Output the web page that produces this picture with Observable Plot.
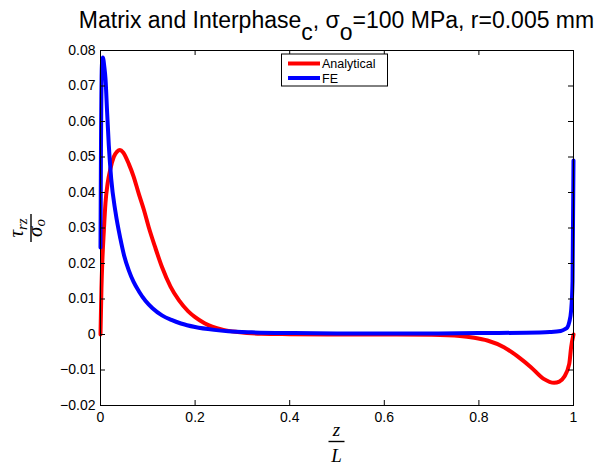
<!DOCTYPE html>
<html><head><meta charset="utf-8">
<script src="https://cdn.jsdelivr.net/npm/d3@7"></script>
<script src="https://cdn.jsdelivr.net/npm/@observablehq/plot@0.6"></script>
<style>body{margin:0;background:#fff} #chart svg{display:block}</style>
</head><body><div id="chart"></div>
<script>
const zAnalytical = [0, 0.002, 0.004, 0.007, 0.0105, 0.015, 0.021, 0.028, 0.035, 0.041, 0.048, 0.06, 0.07, 0.081, 0.092, 0.102, 0.115, 0.13, 0.148, 0.166, 0.185, 0.2, 0.22, 0.236, 0.26, 0.29, 0.34, 0.4, 0.5, 0.6, 0.7, 0.76, 0.79, 0.818, 0.853, 0.888, 0.91, 0.937, 0.959, 0.97, 0.98, 0.991, 0.995, 1];
const tauAnalytical = [0, 0.013, 0.021, 0.029, 0.037, 0.0425, 0.0467, 0.05, 0.0515, 0.052, 0.0513, 0.048, 0.0445, 0.0396, 0.035, 0.0302, 0.0248, 0.019, 0.0135, 0.0096, 0.0066, 0.0049, 0.0032, 0.0022, 0.0013, 0.0007, 0.0002, 0.0001, 0, 0, -0.0001, -0.0004, -0.0009, -0.0017, -0.0036, -0.0068, -0.0092, -0.0125, -0.0136, -0.0133, -0.012, -0.0083, -0.0036, 0];
const zFE = [0, 0.001, 0.003, 0.005, 0.008, 0.0106, 0.014, 0.0176, 0.0226, 0.0317, 0.042, 0.05, 0.06, 0.07, 0.081, 0.095, 0.11, 0.13, 0.15, 0.17, 0.2, 0.24, 0.27, 0.32, 0.41, 0.5, 0.6, 0.7, 0.8, 0.9, 0.95, 0.973, 0.982, 0.987, 0.991, 0.995, 0.998, 1];
const tauFE = [0.0245, 0.052, 0.076, 0.078, 0.0755, 0.072, 0.0626, 0.0532, 0.0439, 0.0345, 0.027, 0.0222, 0.018, 0.0148, 0.0122, 0.0095, 0.0074, 0.0054, 0.0041, 0.0031, 0.0021, 0.0013, 0.0009, 0.0006, 0.0004, 0.0003, 0.0003, 0.0003, 0.0004, 0.0005, 0.0007, 0.001, 0.0015, 0.002, 0.0035, 0.0068, 0.015, 0.049];
const seriesNames = ["Analytical", "FE"];
const seriesColors = ["#ff0000", "#0000ff"];
const xTicks = [0, 0.2, 0.4, 0.6, 0.8, 1];
const xTickLabels = ["0", "0.2", "0.4", "0.6", "0.8", "1"];
const yTicks = [-0.02, -0.01, 0, 0.01, 0.02, 0.03, 0.04, 0.05, 0.06, 0.07, 0.08];
const yTickLabels = ["\u22120.02", "\u22120.01", "0", "0.01", "0.02", "0.03", "0.04", "0.05", "0.06", "0.07", "0.08"];

const W = 614, H = 468, mL = 100, mR = 41, mT = 50, mB = 63;
const fw = W - mL - mR, fh = H - mT - mB, tk = 5;
const sans = "'Liberation Sans', Arial, Helvetica, sans-serif";
const serif = "'Liberation Serif', 'Times New Roman', serif";

const rows = [
  ...zAnalytical.map((z, i) => ({z, tau: tauAnalytical[i], s: seriesNames[0]})),
  ...zFE.map((z, i) => ({z, tau: tauFE[i], s: seriesNames[1]}))
];

const plot = Plot.plot({
  width: W, height: H,
  marginLeft: mL, marginRight: mR, marginTop: mT, marginBottom: mB,
  style: {fontFamily: sans, fontSize: "14px", color: "#000", background: "#fff", overflow: "visible"},
  x: {domain: [0, 1]},
  y: {domain: [-0.02, 0.08]},
  color: {domain: seriesNames, range: seriesColors},
  marks: [
    Plot.line(rows, {x: "z", y: "tau", stroke: "s", z: "s", strokeWidth: 4, curve: "monotone-x"}),
    Plot.frame({stroke: "#000", strokeWidth: 1}),
    Plot.ruleX(xTicks, {x: d => d, insetTop: fh - tk, stroke: "#000"}),
    Plot.ruleX(xTicks, {x: d => d, insetBottom: fh - tk, stroke: "#000"}),
    Plot.ruleY(yTicks, {y: d => d, insetRight: fw - tk, stroke: "#000"}),
    Plot.ruleY(yTicks, {y: d => d, insetLeft: fw - tk, stroke: "#000"}),
    Plot.axisX(xTicks, {tickSize: 0, tickPadding: 7, tickFormat: d => xTickLabels[xTicks.indexOf(d)], label: null, fontSize: 14}),
    Plot.axisY(yTicks, {tickSize: 0, tickPadding: 5, tickFormat: d => yTickLabels[yTicks.indexOf(d)], label: null, fontSize: 14})
  ]
});

const svg = d3.select(plot);

// Title
const t = svg.append("text")
  .attr("x", mL + fw / 2).attr("y", 28)
  .attr("text-anchor", "middle")
  .style("font-family", sans).style("font-size", "23px").attr("fill", "#000");
t.append("tspan").text("Matrix and Interphase");
t.append("tspan").attr("dy", 12).text("c");
t.append("tspan").attr("dy", -12).text(", \u03c3");
t.append("tspan").attr("dy", 12).text("o");
t.append("tspan").attr("dy", -12).text("=100 MPa, r=0.005 mm");

// Y label: tau_rz / sigma_o
const gy = svg.append("g").attr("transform", "translate(31,228) rotate(-90)")
  .style("font-family", serif).style("font-style", "italic").attr("fill", "#000");
gy.append("line").attr("x1", -14).attr("x2", 14).attr("y1", 0).attr("y2", 0).attr("stroke", "#000").attr("stroke-width", 1.4);
const num = gy.append("text").attr("x", 0).attr("y", -8).attr("text-anchor", "middle").style("font-size", "21px");
num.append("tspan").text("\u03c4");
num.append("tspan").attr("dy", 4).style("font-size", "15px").text("rz");
const den = gy.append("text").attr("x", 0).attr("y", 11).attr("text-anchor", "middle").style("font-size", "21px");
den.append("tspan").text("\u03c3");
den.append("tspan").attr("dy", 3).style("font-size", "15px").text("o");

// X label: z / L
const gx = svg.append("g").attr("transform", `translate(${mL + fw / 2},441.5)`)
  .style("font-family", serif).style("font-style", "italic").attr("fill", "#000");
gx.append("line").attr("x1", -8).attr("x2", 8).attr("y1", 0).attr("y2", 0).attr("stroke", "#000").attr("stroke-width", 1.4);
gx.append("text").attr("x", 0).attr("y", -6).attr("text-anchor", "middle").style("font-size", "19px").text("z");
gx.append("text").attr("x", 0).attr("y", 20).attr("text-anchor", "middle").style("font-size", "19px").text("L");

// Legend
const lg = svg.append("g").style("font-family", sans).style("font-size", "12.5px").attr("text-anchor", "start");
lg.append("rect").attr("x", 281.5).attr("y", 54).attr("width", 106).attr("height", 32)
  .attr("fill", "#fff").attr("stroke", "#000").attr("stroke-width", 1);
seriesNames.forEach((name, i) => {
  const y = 63.5 + i * 14.5;
  lg.append("line").attr("x1", 288).attr("x2", 320).attr("y1", y).attr("y2", y)
    .attr("stroke", seriesColors[i]).attr("stroke-width", 4);
  lg.append("text").attr("x", 322).attr("y", y + 4.5).attr("text-anchor", "start").attr("fill", "#000").text(name);
});

document.getElementById("chart").appendChild(plot);
</script>
</body></html>
